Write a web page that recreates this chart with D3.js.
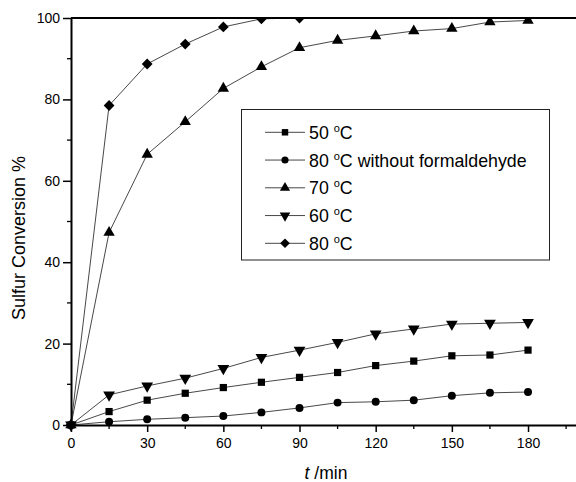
<!DOCTYPE html>
<html>
<head>
<meta charset="utf-8">
<script src="https://cdn.jsdelivr.net/npm/d3@7/dist/d3.min.js"></script>
<style>
  html, body { margin: 0; padding: 0; background: #fff; }
  svg { display: block; font-family: "Liberation Sans", Arial, sans-serif; }
</style>
</head>
<body>
<svg id="chart" width="576" height="482"></svg>
<script>
// Reaction time (min)
const times = [0, 15, 30, 45, 60, 75, 90, 105, 120, 135, 150, 165, 180];

// Sulfur conversion (%) per series
const c50 = [0, 3.3, 6.1, 7.8, 9.2, 10.5, 11.7, 12.9, 14.6, 15.7, 17.0, 17.2, 18.4];
const c80NoForm = [0, 0.8, 1.4, 1.8, 2.2, 3.1, 4.2, 5.5, 5.7, 6.1, 7.2, 7.9, 8.1];
const c70 = [0, 47.3, 66.5, 74.5, 82.7, 88.0, 92.7, 94.5, 95.6, 96.8, 97.4, 99.0, 99.4];
const c60 = [0, 7.4, 9.6, 11.5, 13.9, 16.6, 18.4, 20.3, 22.4, 23.6, 24.8, 25.0, 25.2];
const c80 = [0, 78.5, 88.7, 93.6, 97.8, 99.8, 100];

const seriesNames = ["50 °C", "80 °C without formaldehyde", "70 °C", "60 °C", "80 °C"];
const seriesValues = [c50, c80NoForm, c70, c60, c80];
const seriesSymbols = ["square", "circle", "triangleUp", "triangleDown", "diamond"];

const xTicks = [0, 30, 60, 90, 120, 150, 180];
const xMinorTicks = [15, 45, 75, 105, 135, 165, 195];
const yTicks = [0, 20, 40, 60, 80, 100];
const yMinorTicks = [10, 30, 50, 70, 90];

const svg = d3.select("#chart");

const x = d3.scaleLinear().domain([0, 200]).range([71, 578.8]);
const y = d3.scaleLinear().domain([0, 100]).range([425, 18]);

// marker shapes: d3 symbol path plus a rotation
const symbolDefs = {
  square:       { type: d3.symbolSquare,   size: 52, rot: 0 },
  circle:       { type: d3.symbolCircle,   size: 50, rot: 0 },
  triangleUp:   { type: d3.symbolTriangle, size: 56, rot: 0 },
  triangleDown: { type: d3.symbolTriangle, size: 60, rot: 180 },
  diamond:      { type: d3.symbolSquare,   size: 58, rot: 45 }
};
function markerPath(name, scale) {
  const s = symbolDefs[name];
  return d3.symbol(s.type, s.size * (scale || 1))();
}
function markerTransform(name, px, py) {
  const r = symbolDefs[name].rot;
  return r ? `translate(${px},${py}) rotate(${r})` : `translate(${px},${py})`;
}

svg.append("defs").append("clipPath").attr("id", "plotClip")
  .append("rect").attr("x", 0).attr("y", y(100)).attr("width", 576).attr("height", 482 - y(100));

const plot = svg.append("g").attr("clip-path", "url(#plotClip)");

const line = d3.line().x(d => x(d[0])).y(d => y(d[1]));

seriesValues.forEach((vals, i) => {
  const pts = vals.map((v, j) => [times[j], v]);
  plot.append("path")
    .attr("d", line(pts))
    .attr("fill", "none")
    .attr("stroke", "#333")
    .attr("stroke-width", 0.9);
  plot.selectAll(null).data(pts).enter().append("path")
    .attr("d", markerPath(seriesSymbols[i]))
    .attr("transform", d => markerTransform(seriesSymbols[i], x(d[0]), y(d[1])))
    .attr("fill", "#000");
});

// Axes
const axisColor = "#000";
const xAxis = d3.axisBottom(x).tickValues(xTicks).tickSize(7).tickSizeOuter(0).tickPadding(6);
const gx = svg.append("g").attr("transform", `translate(0,${y(0)})`).call(xAxis);
gx.select(".domain").attr("stroke", axisColor).attr("stroke-width", 2);
gx.selectAll(".tick line").attr("stroke", axisColor).attr("stroke-width", 1.5);
gx.selectAll(".tick text").attr("font-size", 14).attr("font-family", "Liberation Sans, Arial, sans-serif").attr("fill", "#000");
gx.selectAll(".minor").data(xMinorTicks).enter().append("line")
  .attr("x1", d => x(d)).attr("x2", d => x(d)).attr("y1", 0).attr("y2", 4)
  .attr("stroke", axisColor).attr("stroke-width", 1.3);

const yAxis = d3.axisLeft(y).tickValues(yTicks).tickSize(8).tickSizeOuter(0).tickPadding(3);
const gy = svg.append("g").attr("transform", `translate(${x(0)},0)`).call(yAxis);
gy.select(".domain").attr("stroke", axisColor).attr("stroke-width", 2);
gy.selectAll(".tick line").attr("stroke", axisColor).attr("stroke-width", 1.5);
gy.selectAll(".tick text").attr("font-size", 14).attr("font-family", "Liberation Sans, Arial, sans-serif").attr("fill", "#000");
gy.selectAll(".minor").data(yMinorTicks).enter().append("line")
  .attr("y1", d => y(d)).attr("y2", d => y(d)).attr("x1", 0).attr("x2", -4)
  .attr("stroke", axisColor).attr("stroke-width", 1.3);

// top frame line
svg.append("line")
  .attr("x1", x(0)).attr("x2", 576).attr("y1", y(100)).attr("y2", y(100))
  .attr("stroke", axisColor).attr("stroke-width", 2);

// Axis titles
svg.append("text")
  .attr("transform", `translate(25,238) rotate(-90)`)
  .attr("text-anchor", "middle")
  .attr("font-size", 18)
  .text("Sulfur Conversion %");

const xt = svg.append("text")
  .attr("x", 326).attr("y", 479)
  .attr("text-anchor", "middle")
  .attr("font-size", 17.5);
xt.append("tspan").attr("font-style", "italic").text("t");
xt.append("tspan").text(" /min");

// Legend
const legend = svg.append("g");
legend.append("rect")
  .attr("x", 241.5).attr("y", 109.5).attr("width", 308).attr("height", 150.5)
  .attr("fill", "#fff").attr("stroke", "#222").attr("stroke-width", 1);

seriesNames.forEach((name, i) => {
  const ly = 132.3 + i * 27.75;
  legend.append("line").attr("x1", 265).attr("x2", 305).attr("y1", ly).attr("y2", ly)
    .attr("stroke", "#333").attr("stroke-width", 0.9);
  legend.append("path")
    .attr("d", markerPath(seriesSymbols[i], 0.8))
    .attr("transform", markerTransform(seriesSymbols[i], 285, ly))
    .attr("fill", "#000");
  const parts = name.split("°");
  const t = legend.append("text").attr("x", 309).attr("y", ly + 6.5).attr("font-size", 17.8);
  t.append("tspan").text(parts[0]);
  t.append("tspan").attr("font-size", 11).attr("dy", -7).text("o");
  t.append("tspan").attr("dy", 7).text(parts[1]);
});
</script>
</body>
</html>
